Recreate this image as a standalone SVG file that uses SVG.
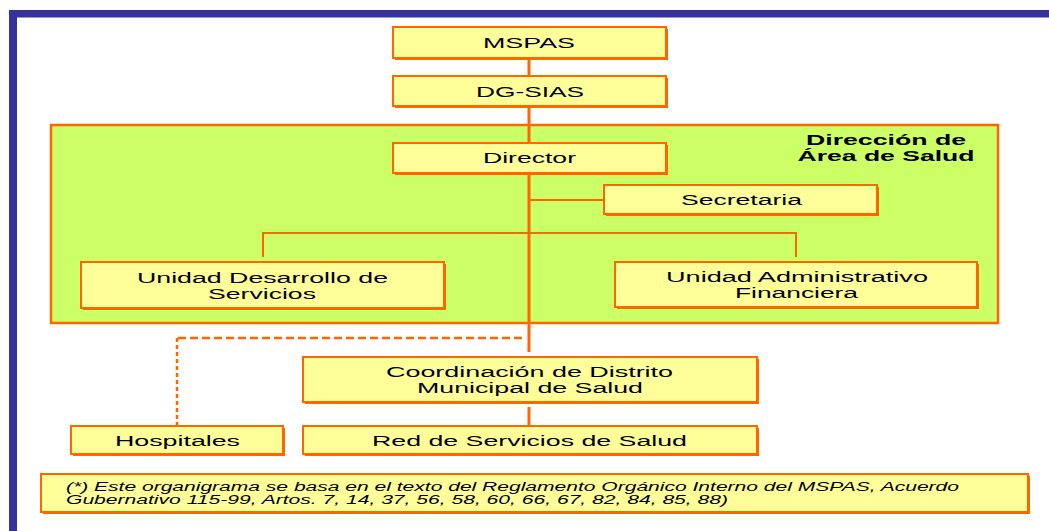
<svg xmlns="http://www.w3.org/2000/svg" width="1049" height="531" viewBox="0 0 1049 531">
<style>
.box{fill:#FFFF99;stroke:#FF6600;stroke-width:2}
.sh{fill:#FF6600}
.t{font-family:"Liberation Sans",Arial,sans-serif;font-size:15.5px;fill:#000;text-anchor:middle}
.b{font-weight:bold}
.fn{font-family:"Liberation Sans",Arial,sans-serif;font-size:12px;font-style:italic;fill:#000}
.ln{stroke:#FF6600;fill:none}
</style>
<rect x="0" y="0" width="1049" height="531" fill="#FFFFFF"/>
<g id="frame">
<rect x="9" y="10" width="1040" height="7.5" fill="#333399"/>
<rect x="9" y="10" width="8" height="521" fill="#333399"/>
</g>
<g id="area">
<rect x="51" y="125" width="947" height="198" fill="#CCFF66" stroke="#FF6600" stroke-width="2.5"/>
<text class="t b" x="886" y="145" textLength="160" lengthAdjust="spacingAndGlyphs">Dirección de</text>
<text class="t b" x="886" y="161" textLength="177" lengthAdjust="spacingAndGlyphs">Área de Salud</text>
</g>
<g id="connectors">
<line class="ln" x1="529" y1="58" x2="529" y2="352" stroke-width="3"/>
<line class="ln" x1="529" y1="200" x2="604" y2="200" stroke-width="2"/>
<polyline class="ln" points="263,257 263,233 796,233 796,257" stroke-width="2"/>
<line class="ln" x1="529" y1="407" x2="529" y2="425" stroke-width="3"/>
<line class="ln" x1="522" y1="338" x2="177" y2="338" stroke-width="2.5" stroke-dasharray="8,4"/>
<line class="ln" x1="177" y1="338" x2="177" y2="425" stroke-width="2.5" stroke-dasharray="4,3"/>
</g>
<g id="mspas">
<rect class="sh" x="395" y="29" width="273" height="31"/>
<rect class="box" x="393" y="27" width="273" height="31"/>
<text class="t" x="529" y="48" textLength="92" lengthAdjust="spacingAndGlyphs">MSPAS</text>
</g>
<g id="dgsias">
<rect class="sh" x="395" y="78" width="273" height="30"/>
<rect class="box" x="393" y="76" width="273" height="30"/>
<text class="t" x="530" y="97" textLength="108" lengthAdjust="spacingAndGlyphs">DG-SIAS</text>
</g>
<g id="director">
<rect class="sh" x="395" y="145" width="273" height="30"/>
<rect class="box" x="393" y="143" width="273" height="30"/>
<text class="t" x="529.5" y="163" textLength="93" lengthAdjust="spacingAndGlyphs">Director</text>
</g>
<g id="secretaria">
<rect class="sh" x="606" y="187" width="273" height="29"/>
<rect class="box" x="604" y="185" width="273" height="29"/>
<text class="t" x="741.5" y="205" textLength="121" lengthAdjust="spacingAndGlyphs">Secretaria</text>
</g>
<g id="unidad-desarrollo">
<rect class="sh" x="83" y="264" width="363" height="46"/>
<rect class="box" x="81" y="262" width="363" height="46"/>
<text class="t" x="262.5" y="283" textLength="251" lengthAdjust="spacingAndGlyphs">Unidad Desarrollo de</text>
<text class="t" x="262" y="299" textLength="108" lengthAdjust="spacingAndGlyphs">Servicios</text>
</g>
<g id="unidad-administrativo">
<rect class="sh" x="617" y="264" width="362" height="45"/>
<rect class="box" x="615" y="262" width="362" height="45"/>
<text class="t" x="797" y="282" textLength="262" lengthAdjust="spacingAndGlyphs">Unidad Administrativo</text>
<text class="t" x="796.5" y="298" textLength="123" lengthAdjust="spacingAndGlyphs">Financiera</text>
</g>
<g id="coordinacion">
<rect class="sh" x="305" y="359" width="454" height="45"/>
<rect class="box" x="303" y="357" width="454" height="45"/>
<text class="t" x="529.5" y="377" textLength="287" lengthAdjust="spacingAndGlyphs">Coordinación de Distrito</text>
<text class="t" x="530" y="393" textLength="226" lengthAdjust="spacingAndGlyphs">Municipal de Salud</text>
</g>
<g id="hospitales">
<rect class="sh" x="73" y="428" width="212" height="28"/>
<rect class="box" x="71" y="426" width="212" height="28"/>
<text class="t" x="177.5" y="446" textLength="125" lengthAdjust="spacingAndGlyphs">Hospitales</text>
</g>
<g id="red">
<rect class="sh" x="305" y="428" width="454" height="28"/>
<rect class="box" x="303" y="426" width="454" height="28"/>
<text class="t" x="529.5" y="446" textLength="315" lengthAdjust="spacingAndGlyphs">Red de Servicios de Salud</text>
</g>
<g id="nota">
<rect class="sh" x="43" y="476" width="987" height="38"/>
<rect class="box" x="41" y="474" width="987" height="38"/>
<text class="fn" x="66" y="491" textLength="893" lengthAdjust="spacingAndGlyphs">(*) Este organigrama se basa en el texto del Reglamento Orgánico Interno del MSPAS, Acuerdo</text>
<text class="fn" x="66" y="504" textLength="662" lengthAdjust="spacingAndGlyphs">Gubernativo 115-99, Artos. 7, 14, 37, 56, 58, 60, 66, 67, 82, 84, 85, 88)</text>
</g>
</svg>
